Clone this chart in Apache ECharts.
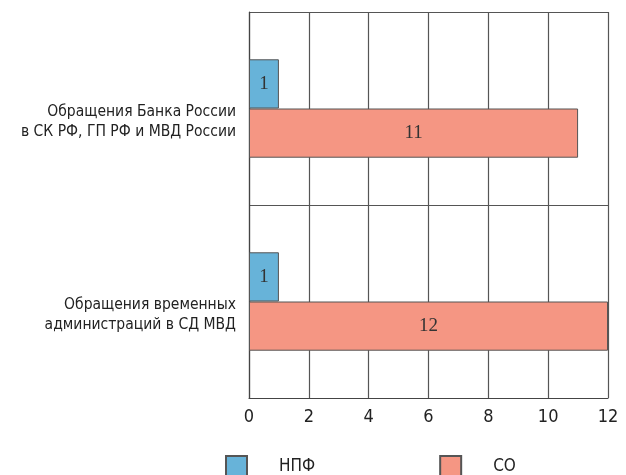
<!DOCTYPE html>
<html><head><meta charset="utf-8">
<script src="https://cdn.jsdelivr.net/npm/echarts@6/dist/echarts.min.js"></script>
<style>html,body{margin:0;padding:0;background:#fff}#c{width:626px;height:475px}</style>
</head><body><div id="c"></div>
<script>
const categories = ["Обращения Банка России\nв СК РФ, ГП РФ и МВД России", "Обращения временных\nадминистраций в СД МВД"];
const seriesNames = ["НПФ", "СО"];
const npfValues = [1, 1];
const soValues = [11, 12];
const xTicks = [0, 2, 4, 6, 8, 10, 12];

const narrow = "'Liberation Sans Narrow', 'DejaVu Sans Condensed', sans-serif";
const chart = echarts.init(document.getElementById('c'));
chart.setOption({
  animation: false,
  grid: {left: 249, right: 18, top: 12, bottom: 77, containLabel: false},
  xAxis: {
    type: 'value', min: xTicks[0], max: xTicks[xTicks.length-1], interval: 2,
    axisLine: {show: true, lineStyle: {color: '#444', width: 1.2}},
    axisTick: {show: false},
    splitLine: {show: true, lineStyle: {color: '#555', width: 1.2}},
    axisLabel: {color: '#222', fontFamily: narrow, fontSize: 18, margin: 10}
  },
  yAxis: {
    type: 'category', data: categories, inverse: true,
    axisLine: {show: true, lineStyle: {color: '#444', width: 1.2}},
    axisTick: {show: false},
    splitLine: {show: true, lineStyle: {color: '#555', width: 1.2}},
    axisLabel: {
      color: '#222', fontFamily: narrow, fontSize: 15.5, align: 'right', margin: 13,
      formatter: function (v) { return '{s|}\n' + v.split('\n').map(function (l) { return '{a|' + l + '}'; }).join('\n'); },
      rich: {
        s: {lineHeight: 26, fontSize: 10},
        a: {lineHeight: 20, fontSize: 15.5, fontFamily: narrow, color: '#222', align: 'right'}
      }
    }
  },
  legend: {
    data: seriesNames, top: 450, left: 220, itemWidth: 21, itemHeight: 21, itemGap: 124,
    icon: 'rect',
    textStyle: {fontFamily: narrow, fontSize: 17, color: '#222', padding: [0, 0, 0, 27]}
  },
  series: [
    {name: seriesNames[0], type: 'bar', data: npfValues, barGap: '0%', barCategoryGap: '49%',
     itemStyle: {color: '#67b3d9', borderColor: '#555', borderWidth: 1},
     label: {show: true, position: 'inside', color: '#333', fontFamily: "'Liberation Serif', serif", fontSize: 19}},
    {name: seriesNames[1], type: 'bar', data: soValues, barGap: '0%', barCategoryGap: '49%',
     itemStyle: {color: '#f59683', borderColor: '#555', borderWidth: 1},
     label: {show: true, position: 'inside', color: '#333', fontFamily: "'Liberation Serif', serif", fontSize: 19}}
  ]
});
</script></body></html>
